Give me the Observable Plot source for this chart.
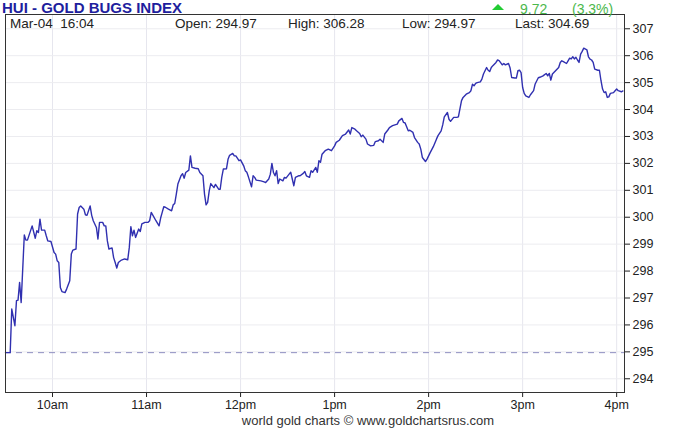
<!DOCTYPE html>
<html>
<head>
<meta charset="utf-8">
<script src="https://cdn.jsdelivr.net/npm/d3@7"></script>
<script src="https://cdn.jsdelivr.net/npm/@observablehq/plot@0.6"></script>
<style>
  html, body { margin: 0; padding: 0; background: #fff; }
  #wrap { position: relative; width: 680px; height: 428px; overflow: hidden; font-family: "Liberation Sans", Arial, sans-serif; }
  #title { position: absolute; left: 2px; top: 0px; font-size: 15px; font-weight: bold; color: #1e1e9e; line-height: 1; white-space: nowrap; }
  .chg { position: absolute; top: 1.5px; font-size: 14px; color: #4cb84c; line-height: 1; white-space: nowrap; }
  #tri { position: absolute; left: 492px; top: 3.5px; width: 0; height: 0; border-left: 6.5px solid transparent; border-right: 6.5px solid transparent; border-bottom: 6px solid #22cc33; }
  .hdr { position: absolute; top: 16.6px; font-size: 13.5px; color: #222; line-height: 1; white-space: pre; }
  #plot { position: absolute; left: 0; top: 13px; }
  #caption { position: absolute; left: 368px; top: 414px; transform: translateX(-50%); font-family: "Liberation Sans Narrow", "Liberation Sans", sans-serif; font-size: 13px; color: #333; line-height: 1; white-space: nowrap; }
</style>
</head>
<body>
<div id="wrap"></div>
<script>
// ---- data ----
const indexName = "HUI - GOLD BUGS INDEX";
const dateLabel = "Mar-04";
const timeLabel = "16:04";
const openValue = 294.97;
const highValue = 306.28;
const lowValue = 294.97;
const lastValue = 304.69;
const changeValue = 9.72;
const changePct = "3.3%";
const captionText = "world gold charts © www.goldchartsrus.com";

// minutes after 9:30 open
const minutesAfterOpen = [
  0,3,4,6,7,8,9,10,12,13,
  14,17,19,20,21,22,23,25,26,27,
  29,31,32,33,34,35,36,38,39,41,
  42,43,45,46,47,48,50,51,52,54,
  55,56,58,59,60,62,63,64,65,66,
  68,69,70,71,72,74,76,78,79,80,
  81,82,83,85,86,87,89,91,92,93,
  94,96,98,99,100,101,102,104,106,107,
  108,109,110,112,113,114,115,117,118,119,
  121,123,124,126,127,128,129,130,131,133,
  134,136,137,138,139,141,142,143,145,146,
  147,149,150,152,153,154,155,157,158,159,
  160,163,165,166,168,169,170,171,172,173,
  174,175,177,178,179,181,182,184,185,187,
  188,190,191,192,194,195,196,198,199,200,
  201,202,204,206,208,210,211,213,215,217,
  219,220,221,223,224,226,227,228,230,231,
  233,235,236,238,239,241,242,244,245,247,
  250,251,253,254,255,257,258,260,261,263,
  264,265,266,268,269,271,273,275,276,278,
  279,280,282,283,284,286,288,289,291,292,
  294,296,297,298,299,300,301,303,304,305,
  307,308,309,310,311,313,314,315,317,318,
  319,321,322,323,325,326,327,328,329,330,
  331,332,334,335,337,338,340,341,342,343,
  345,346,347,348,349,351,353,354,355,356,
  358,359,360,361,362,363,364,365,366,367,
  368,369,371,372,373,374,375,376,378,379,
  380,381,382,383,384,385,386,388,389,390,
  391,393,394
];
const hui = [
  294.97,294.97,296.59,295.97,296.9,296.92,297.58,296.83,299.34,299.15,
  299.15,299.68,299.22,299.5,299.43,299.93,299.52,299.52,299.31,299.12,
  299.1,298.69,298.63,298.38,298.32,297.39,297.24,297.2,297.33,297.64,
  298.63,298.78,298.82,300.12,300.36,300.42,300.3,300.09,300.07,300.42,
  300.07,299.87,299.62,299.19,299.81,299.81,299.68,299.68,299.12,298.82,
  298.86,298.5,298.32,298.11,298.32,298.41,298.45,298.42,298.88,299.65,
  299.31,299.52,299.25,299.56,299.47,299.75,299.81,299.81,299.87,300.18,
  300.08,299.87,299.68,299.97,300.18,300.39,300.37,300.3,300.24,300.46,
  300.51,300.86,301.23,301.54,301.62,301.45,301.66,301.75,302.28,301.85,
  301.82,301.8,301.66,301.54,300.86,300.46,300.55,300.98,301.25,301.1,
  301.22,301.04,301.04,301.48,301.79,301.8,302.15,302.3,302.37,302.28,
  302.28,302.1,302.13,301.91,301.73,301.67,301.5,301.13,301.54,301.48,
  301.38,301.35,301.31,301.29,301.42,301.6,302.0,301.66,301.54,301.73,
  301.25,301.42,301.35,301.48,301.45,301.6,301.67,301.17,301.48,301.54,
  301.54,301.63,301.7,301.54,301.48,301.73,301.67,301.85,301.67,302.1,
  302.04,302.34,302.47,302.53,302.47,302.65,302.78,302.86,303.03,303.09,
  303.24,303.09,303.33,303.27,303.21,303.11,302.99,303.05,302.9,302.72,
  302.65,302.67,302.81,302.84,302.9,302.78,303.09,303.24,303.33,303.4,
  303.46,303.58,303.67,303.52,303.5,303.21,303.23,303.15,302.96,302.78,
  302.72,302.53,302.22,302.07,302.16,302.4,302.62,302.9,303.03,303.21,
  303.43,303.73,303.89,303.64,303.56,303.71,303.71,303.73,304.33,304.45,
  304.57,304.63,304.7,304.94,304.88,304.97,305.0,305.03,305.13,305.32,
  305.56,305.46,305.41,305.56,305.63,305.75,305.84,305.82,305.66,305.71,
  305.66,305.71,305.54,305.19,305.17,305.17,305.44,305.46,305.37,304.82,
  304.6,304.51,304.45,304.55,304.7,304.95,305.18,305.2,305.22,305.25,
  305.34,305.25,305.34,305.09,305.32,305.44,305.56,305.75,305.81,305.78,
  305.71,305.81,305.91,305.88,305.96,305.88,305.94,305.84,305.75,306.06,
  306.16,306.28,306.22,305.96,305.87,305.84,305.75,305.5,305.46,305.46,
  305.07,304.76,304.63,304.66,304.45,304.47,304.6,304.63,304.7,304.76,
  304.7,304.66,304.69
];
const hourTicks = [10, 11, 12, 13, 14, 15, 16];
const hourLabels = ["10am", "11am", "12pm", "1pm", "2pm", "3pm", "4pm"];
const yTicks = [294, 295, 296, 297, 298, 299, 300, 301, 302, 303, 304, 305, 306, 307];
const sessionMinutes = [0, 395];
const yDomain = [293.49, 307.53];

// ---- build ----
const at = (m) => new Date(Date.UTC(2020, 2, 4, 9, 30 + m));
const series = minutesAfterOpen.map((m, i) => ({ t: at(m), v: hui[i] }));
const tickDates = hourTicks.map(h => new Date(Date.UTC(2020, 2, 4, h, 0)));

const wrap = document.getElementById("wrap");

const chart = Plot.plot({
  width: 680,
  height: 400,
  marginLeft: 5,
  marginRight: 56,
  marginTop: 1,
  marginBottom: 21,
  style: { fontFamily: "'Liberation Sans Narrow', 'Liberation Sans', sans-serif", fontSize: "12.5px", color: "#222", background: "transparent" },
  x: { type: "utc", domain: sessionMinutes.map(at), ticks: tickDates, tickFormat: (d) => hourLabels[hourTicks.indexOf(d.getUTCHours())], label: null, tickSize: 5, tickPadding: 3 },
  y: { domain: yDomain, ticks: yTicks, tickFormat: d => String(d), label: null, axis: "right", tickSize: 5, tickPadding: 3 },
  marks: [
    Plot.gridX(tickDates, { stroke: "#e6e6ee", strokeOpacity: 1 }),
    Plot.gridY(yTicks, { stroke: "#ececf0", strokeOpacity: 1 }),
    Plot.ruleY([openValue], { stroke: "#9090c0", strokeDasharray: "6,5", strokeWidth: 1 }),
    Plot.line(series, { x: "t", y: "v", stroke: "#3030b0", strokeWidth: 1.4 }),
    Plot.frame({ stroke: "#333", strokeWidth: 1 })
  ]
});
chart.id = "plot";
wrap.appendChild(chart);

const addDiv = (id, cls, text, left) => {
  const d = document.createElement("div");
  if (id) d.id = id;
  if (cls) d.className = cls;
  if (text != null) d.textContent = text;
  if (left != null) d.style.left = left + "px";
  wrap.appendChild(d);
  return d;
};

addDiv("title", null, indexName);
addDiv("tri", null, null);
addDiv(null, "chg", changeValue.toFixed(2), 520);
addDiv(null, "chg", "(" + changePct + ")", 572);

const headerTexts = [
  dateLabel + "  " + timeLabel,
  "Open: " + openValue.toFixed(2),
  "High: " + highValue.toFixed(2),
  "Low: " + lowValue.toFixed(2),
  "Last: " + lastValue.toFixed(2)
];
const headerLefts = [10, 175, 288, 402, 515];
headerTexts.forEach((t, i) => addDiv(null, "hdr", t, headerLefts[i]));

addDiv("caption", null, captionText);
</script>
</body>
</html>
